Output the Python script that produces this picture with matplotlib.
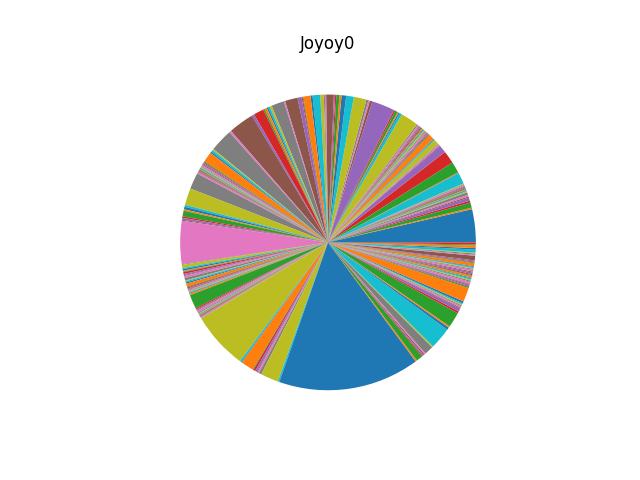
import matplotlib
matplotlib.use("Agg")
import matplotlib.pyplot as plt

# slice sizes, read counter-clockwise from 3 o'clock (colours follow the default cycle)
shares = [
    13.0, 0.6, 2.0, 0.8, 1.2, 0.5, 0.7, 1.0, 0.4,
    0.3, 0.3, 0.3, 0.4, 0.3, 0.4, 0.3, 0.4, 0.3, 0.3,
    4.3, 0.25, 0.25,
    4.4, 5.0, 3.0,
    0.3, 0.5, 0.3, 2.0, 0.4, 0.3, 2.2, 0.3, 0.3, 0.4, 0.3, 0.5, 0.4,
    0.5, 0.3, 0.3, 0.4, 0.3, 0.4, 0.5, 0.3, 0.6, 0.5,
    7.0,
    1.0, 0.5, 0.4, 1.0, 0.6,
    9.0,
    1.0, 0.6, 0.8, 5.0, 3.0, 1.8, 0.8, 1.2, 0.5, 0.5,
    3.0,
    0.5, 0.4, 1.4, 3.0, 0.8, 2.8, 0.3, 0.4, 1.6,
    5.0, 0.5, 5.0,
    0.8, 0.7, 0.6, 0.9, 0.6,
    4.0, 1.0, 10.0, 0.8, 9.0,
    0.5, 0.8, 0.6,
    4.0,
    0.4, 0.3, 0.5, 0.4, 0.6,
    0.3, 0.3, 0.3, 0.3, 0.3, 0.3, 0.3, 0.3, 0.3, 0.6,
    6.4, 6.6,
    0.8, 1.0, 0.6, 2.2, 0.6, 0.7, 0.4,
    16.9,
    0.3, 1.2, 0.5, 0.6, 0.3, 0.3, 0.7, 0.5, 0.3, 0.8, 1.0, 0.3, 0.5, 0.5, 1.2,
    0.3, 0.4, 0.3, 0.3, 0.4, 0.3, 0.3, 0.3, 0.3, 0.6,
    5.5,
    0.5, 0.3, 0.3, 0.8, 0.4,
    0.2, 0.2, 0.2, 0.2, 0.2, 0.3, 0.2, 0.2, 0.3, 0.2,
    22.5,
    0.6, 0.3,
    5.0,
    0.3, 0.8, 0.7, 0.3, 0.7, 1.0,
    7.0, 0.6,
    55.6,
    0.6, 2.5, 0.4, 0.4, 0.5, 0.5, 3.5, 0.5,
    8.5,
    1.0, 0.6, 6.0, 0.8, 1.2, 0.4, 0.6, 0.4, 0.4, 0.5, 0.8,
    5.5,
    0.5, 0.3, 0.6, 0.3, 0.8, 0.5, 0.4, 0.5, 0.3, 0.7,
    0.3, 0.4, 0.6, 0.4, 0.7, 0.4, 0.3, 0.4, 0.3, 1.2,
    0.3, 0.3, 0.5, 1.8, 0.4, 0.5, 0.3, 1.2, 0.6, 1.0,
    0.4, 0.8,
]

fig, ax = plt.subplots(figsize=(6.4, 4.8), dpi=100)
ax.pie(shares)
ax.set_title("Joyoy0")

plt.savefig("out.png", dpi=100)
